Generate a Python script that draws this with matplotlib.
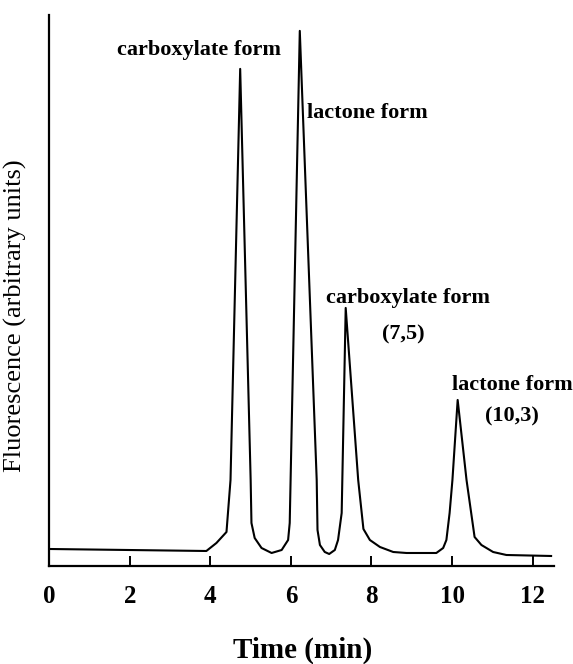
import matplotlib
matplotlib.use("Agg")
import matplotlib.pyplot as plt

# chromatogram trace (time in min, signal in arbitrary units)
time_min = [0.00, 3.90, 4.15, 4.40, 4.50, 4.74, 5.00, 5.02, 5.10, 5.27, 5.52, 5.77,
            5.93, 5.97, 6.22, 6.64, 6.66, 6.72, 6.84, 6.95, 7.09, 7.17, 7.26,
            7.36, 7.67, 7.80, 7.96, 8.21, 8.54, 8.87, 9.61, 9.78, 9.86, 9.94,
            10.01, 10.14, 10.36, 10.56, 10.73, 11.02, 11.35, 12.46]
signal = [17, 15, 23, 34, 86, 497, 86, 43, 28, 18, 13, 16,
          26, 43, 535, 86, 36, 21, 14, 12, 16, 26, 53,
          258, 86, 37, 26, 19, 14, 13, 13, 18, 26, 53,
          86, 166, 86, 29, 21, 14, 11, 10]

xticks = [0, 2, 4, 6, 8, 10, 12]

labels = ["carboxylate form", "lactone form", "carboxylate form", "(7,5)",
          "lactone form", "(10,3)"]
label_x = [3.71, 7.90, 8.90, 8.80, 11.51, 11.48]
label_y = [516, 453, 268, 231, 181, 149]

plt.rcParams["font.family"] = ["Liberation Serif", "DejaVu Serif"]

fig = plt.figure(figsize=(5.73, 6.64), dpi=100)
ax = fig.add_axes([0.086, 0.1476, 0.880, 0.830])

ax.plot(time_min, signal, color="black", lw=1.5, solid_joinstyle="round")

ax.set_xlim(0, 12.52)
ax.set_ylim(0, 551)
ax.spines["top"].set_visible(False)
ax.spines["right"].set_visible(False)
ax.spines["left"].set_linewidth(1.6)
ax.spines["bottom"].set_linewidth(1.6)

ax.set_xticks(xticks)
ax.set_xticklabels([str(t) for t in xticks], fontsize=18, fontweight="bold")
ax.tick_params(axis="x", direction="in", length=7, width=1.4, pad=14)
ax.set_yticks([])

fig.text(303 / 573, 1 - 650 / 664, "Time (min)", fontsize=21, fontweight="bold",
         ha="center", va="center")
fig.text(15 / 573, 1 - 316 / 664, "Fluorescence (arbitrary units)", fontsize=19,
         rotation=90, ha="center", va="center")

for txt, x, y in zip(labels, label_x, label_y):
    ax.text(x, y, txt, fontsize=16, fontweight="bold", ha="center", va="center")

fig.savefig("out.png", dpi=100)
